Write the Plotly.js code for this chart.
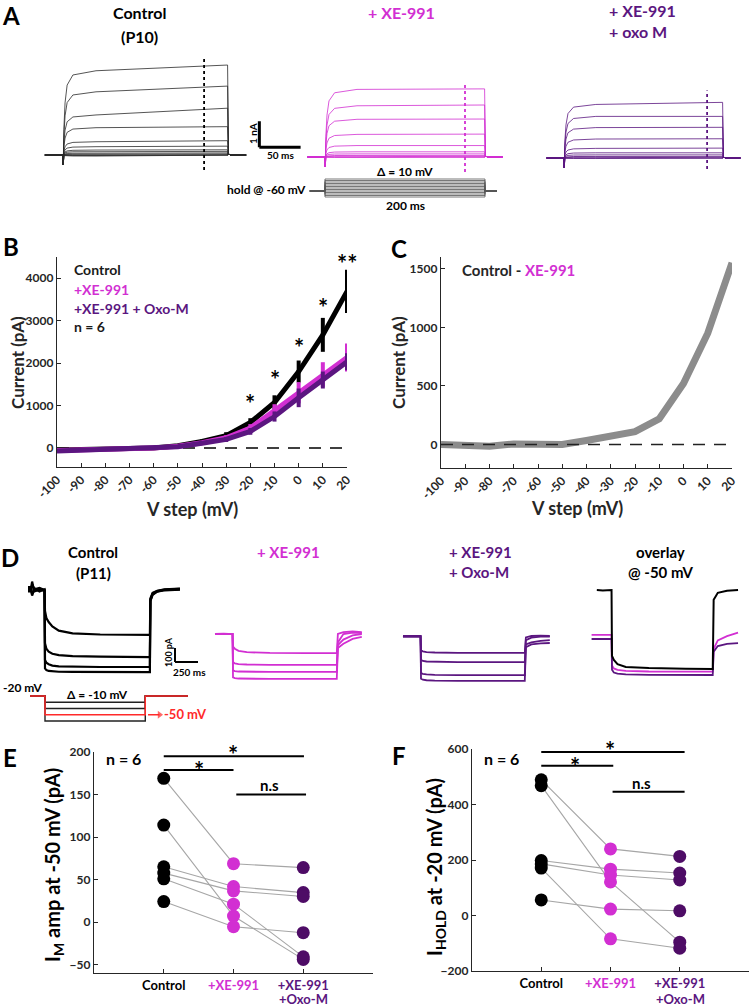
<!DOCTYPE html>
<html><head><meta charset="utf-8">
<script src="https://cdn.plot.ly/plotly-3.0.1.min.js"></script>
<style>html,body{margin:0;padding:0;background:#fff}#chart{width:752px;height:1006px}</style>
</head><body><div id="chart"></div>
<script>
const W=752,H=1006;
const FONT='Lato, "DejaVu Sans", sans-serif';
const MAG='#d22fd2', PUR='#5b1680', PURDOT='#4e0c66', BLK='#000000', AXC='#262626', RED='#ff2a2a';

// ---------- Panel B / C data (I-V) ----------
const vSteps=[-100,-90,-80,-70,-60,-50,-40,-30,-20,-10,0,10,20];
const ivControl=[-50,-40,-30,-20,0,50,150,290,600,1070,1800,2665,3690];
const ivControlErr=[30,30,30,30,30,30,50,80,100,170,260,400,510];
const ivXE=[-60,-50,-35,-20,-5,40,120,240,470,880,1300,1730,2130];
const ivXEErr=[30,30,30,30,30,30,40,60,90,150,250,290,330];
const ivOxo=[-70,-55,-40,-25,-10,30,110,200,390,740,1180,1600,2030];
const ivOxoErr=[30,30,30,30,30,30,40,60,80,120,220,200,200];
const ivDiff=[0,0,-15,5,-5,0,35,70,110,220,520,950,1550];
const bStarV=[-20,-10,0,10,20];
const bStarY=[1200,1745,2500,3440,4500];
const bStarText=['*','*','*','*','**'];

// ---------- Panel E / F data (paired) ----------
const groups=['Control','+XE-991','+XE-991 +Oxo-M'];
const eControl=[169,114,65,57.5,50.8,24];
const eXE=[68.6,7,41.7,36.6,21,-5.5];
const eOxo=[64,-44,34.6,30,-41,-12.6];
const fControl=[489,468,198,186,171,56];
const fXE=[240,121,167,146,-84,23];
const fOxo=[213,-96,153,128,-118,17];

// ---------- Panel A data (current traces, nA; step levels at onset / end) ----------
const aCtlStart=[3.24,2.43,1.54,1.05,0.51,0.32,0.19,0.13,0.07,0.03,0.0,-0.02,-0.04];
const aCtlEnd=[3.46,2.65,1.80,1.09,0.55,0.34,0.20,0.14,0.08,0.04,0.01,-0.01,-0.03];
const aXEStart=[2.60,1.97,1.45,0.87,0.44,0.20,0.12,0.06,0.03,0.0,-0.02];
const aXEEnd=[2.62,2.00,1.46,0.88,0.44,0.20,0.12,0.06,0.03,0.0,-0.02];
const aOxoStart=[2.06,1.60,1.17,0.73,0.37,0.20,0.12,0.06,0.03,0.0,-0.02];
const aOxoEnd=[2.14,1.60,1.18,0.74,0.38,0.20,0.12,0.06,0.03,0.0,-0.02];
const aTime=[-22,-0.5,0,0.3,1,2.5,5,12,40,199.5,200,200.6,203,222];
const aProtV=[-100,-90,-80,-70,-60,-50,-40,-30,-20,-10,0,10,20];

// ---------- Panel D data (pA) ----------
const dCtlT=[-185,-150,-140,-120,-60,-5,0,15,40,80,150,300,600,1000,1140,1145,1170,1220,1300,1467];
const dCtl=[
 [20,20,60,0,10,0,-150,-200,-229,-260,-290,-310,-318,-321,-321,-60,-20,-5,5,10],
 [10,10,-30,-10,0,-5,-380,-420,-440,-455,-465,-472,-476,-479,-479,-70,-25,-8,3,8],
 [0,0,40,15,-10,5,-500,-520,-530,-540,-545,-548,-550,-550,-550,-75,-30,-10,0,5],
 [-10,-10,-40,5,15,0,-560,-572,-578,-582,-584,-585,-586,-586,-586,-80,-35,-12,-2,2]];
const dStepT=[-196,-100,-5,0,20,60,150,400,800,1128,1140,1200,1300,1400];
const dXE=[
 [0,3,0,-90,-105,-120,-130,-135,-136,-136,0,14,18,14],
 [0,-2,0,-200,-210,-215,-218,-220,-221,-221,-60,0,10,7],
 [0,2,0,-260,-265,-268,-270,-271,-271,-271,-80,-40,-10,0],
 [0,-2,0,-310,-315,-318,-320,-321,-321,-321,-100,-70,-35,-20]];
const dOxo=[
 [0,0,0,-100,-110,-115,-118,-120,-121,-121,-10,0,2,0],
 [0,0,0,-170,-178,-182,-184,-186,-186,-186,-30,-12,-5,-5],
 [-5,-5,-5,-265,-270,-274,-277,-279,-279,-279,-60,-45,-35,-30],
 [-5,-5,-5,-305,-312,-316,-319,-321,-321,-321,-80,-60,-52,-50]];
const dOvT=[-222,-100,-5,0,20,60,150,400,800,1095,1105,1150,1250,1370];
const dOvCtlT=[-165,-100,-5,0,20,60,150,400,800,1095,1105,1150,1250,1370];
const dOvCtl=[0,-3,0,-470,-500,-530,-550,-557,-562,-564,-70,-20,-5,0];
const dOvXE=[-321,-321,-321,-540,-560,-570,-578,-582,-583,-583,-420,-360,-330,-305];
const dOvOxo=[-350,-350,-350,-570,-590,-598,-603,-606,-607,-607,-440,-400,-385,-379];
const dProtBlack=[-30,-40,-60];
const dProtRed=-50;

// ================= build =================
const traces=[], shapes=[], annotations=[];
const axStyle=()=>({showline:true,linecolor:AXC,linewidth:1.2,ticks:'inside',ticklen:4,tickcolor:AXC,tickwidth:1,
  showgrid:false,zeroline:false,fixedrange:true,tickfont:{family:FONT,size:12,color:AXC,weight:'bold'}});
const layout={width:W,height:H,margin:{l:0,r:0,t:0,b:0},paper_bgcolor:'#fff',plot_bgcolor:'rgba(0,0,0,0)',
  showlegend:false,font:{family:FONT,color:'#000'},shapes,annotations};

layout.xaxis=Object.assign(axStyle(),{domain:[57/W,347/W],range:[-100,20],tickvals:vSteps,ticktext:vSteps.map(String),tickangle:-45,anchor:'y'});
layout.yaxis=Object.assign(axStyle(),{domain:[1-467/H,1-257/H],range:[-450,4500],tickvals:[0,1000,2000,3000,4000],anchor:'x'});
layout.xaxis2=Object.assign(axStyle(),{domain:[441/W,732/W],range:[-100,20],tickvals:vSteps,ticktext:vSteps.map(String),tickangle:-45,anchor:'y2'});
layout.yaxis2=Object.assign(axStyle(),{domain:[1-468/H,1-257/H],range:[-200,1600],tickvals:[0,500,1000,1500],anchor:'x2'});
const catText=['Control','<span style="color:'+MAG+'">+XE-991</span>','<span style="color:'+PUR+'">+XE-991</span>'];
layout.xaxis3=Object.assign(axStyle(),{domain:[94/W,373/W],range:[-1,3],tickvals:[0,1,2],ticktext:catText,anchor:'y3'});
layout.xaxis3.tickfont=Object.assign({},layout.xaxis3.tickfont,{size:13,color:'#000'});
layout.yaxis3=Object.assign(axStyle(),{domain:[1-973/H,1-752/H],range:[-60,200],tickvals:[-50,0,50,100,150,200],anchor:'x3'});
layout.xaxis4=Object.assign(axStyle(),{domain:[472/W,749/W],range:[-1,3],tickvals:[0,1,2],ticktext:catText,anchor:'y4'});
layout.xaxis4.tickfont=Object.assign({},layout.xaxis4.tickfont,{size:13,color:'#000'});
layout.yaxis4=Object.assign(axStyle(),{domain:[1-971/H,1-749/H],range:[-200,600],tickvals:[-200,0,200,400,600],anchor:'x4'});

function hid(n,x0,ppx,xmin,xmax,y0,ppy,ymin,ymax){
  layout['xaxis'+n]={domain:[(x0+xmin*ppx)/W,(x0+xmax*ppx)/W],range:[xmin,xmax],visible:false,anchor:'y'+n,fixedrange:true};
  layout['yaxis'+n]={domain:[1-(y0-ymin*ppy)/H,1-(y0-ymax*ppy)/H],range:[ymin,ymax],visible:false,anchor:'x'+n,fixedrange:true};
}
hid(5,63,0.825,-24,300,155,26,-0.8,4.0);
hid(6,325,0.8,-24,224,157,26,-0.8,4.0);
hid(7,564,0.795,-24,224,158,26,-0.8,4.0);
hid(8,325,0.8,-24,224,182,0.15,-118,28);
hid(9,45,0.092,-200,1700,590,0.14,-720,140);
hid(10,233,0.092,-210,1420,634,0.14,-420,120);
hid(11,421,0.092,-210,1420,636,0.14,-420,120);
hid(12,612,0.092,-240,1380,590,0.14,-720,140);
hid(13,45,0.092,-200,1700,683.5,0.625,-70,-5);

function line(xa,ya,x,y,color,width,extra){traces.push(Object.assign({type:'scatter',mode:'lines',x,y,xaxis:xa,yaxis:ya,
  line:{color,width},hoverinfo:'skip',cliponaxis:false},extra||{}));}

// ---- Panel B ----
line('x','y',[-100,20],[0,0],'#000',1.5,{line:{color:'#000',width:1.5,dash:'12px,9px'}});
[[ivControl,ivControlErr,'#000'],[ivXE,ivXEErr,MAG],[ivOxo,ivOxoErr,PUR]].forEach(([v,e,c])=>{
  traces.push({type:'scatter',mode:'lines',x:vSteps,y:v,xaxis:'x',yaxis:'y',line:{color:c,width:5},cliponaxis:false,hoverinfo:'skip',
    error_y:{type:'data',array:e,visible:true,color:c,thickness:4,width:0}});
});
bStarV.forEach((v,i)=>annotations.push({xref:'x',yref:'y',x:v,y:bStarY[i],text:bStarText[i],showarrow:false,yshift:-6,
  font:{family:FONT,size:24,color:'#000',weight:'bold'}}));

// ---- Panel C ----
line('x2','y2',vSteps,ivDiff,'#8c8c8c',7);
line('x2','y2',[-100,20],[0,0],'#000',1.5,{line:{color:'#222',width:1.5,dash:'12px,9px'}});

// ---- Panel E / F ----
function paired(xa,ya,c,x,o){
  c.forEach((v,i)=>line(xa,ya,[0,1,2],[v,x[i],o[i]],'#a6a6a6',1.1));
  [[c,0,'#000'],[x,1,MAG],[o,2,PURDOT]].forEach(([arr,g,col])=>traces.push({type:'scatter',mode:'markers',xaxis:xa,yaxis:ya,
    x:arr.map(()=>g),y:arr,marker:{size:13,color:col},cliponaxis:false,hoverinfo:'skip'}));
}
paired('x3','y3',eControl,eXE,eOxo);
paired('x4','y4',fControl,fXE,fOxo);
function seg(xr,yr,x0,x1,y0,y1,color,width,dash){shapes.push({type:'line',xref:xr,yref:yr,x0,x1,y0,y1,line:{color,width,dash:dash||'solid'}});}
seg('x3','y3',0,2.01,195,195,'#000',2);
seg('x3','y3',0,1,178.7,178.7,'#000',2);
seg('x3','y3',1.04,2.04,150,150,'#000',2);
seg('x4','y4',0,2.07,589,589,'#000',2);
seg('x4','y4',0,1.04,540,540,'#000',2);
seg('x4','y4',1.03,2.07,446,446,'#000',2);
function axAnn(xr,yr,x,y,text,size,extra){annotations.push(Object.assign({xref:xr,yref:yr,x,y,text,showarrow:false,
  font:{family:FONT,size,color:'#000',weight:'bold'}},extra||{}));}
axAnn('x3','y3',0.5,185.6,'*',24,{yshift:-6});
axAnn('x3','y3',1.51,160.8,'n.s',15);
axAnn('x4','y4',0.49,558,'*',24,{yshift:-6});
axAnn('x4','y4',1.45,477,'n.s',15);

// ---- Panel A traces ----
function aWave(s,e){return [0,0,0,-0.38,0.3*s,0.62*s,0.83*s,0.95*s,s,e,0.12*e,0.04,0,0];}
aCtlStart.forEach((s,i)=>line('x5','y5',aTime,aWave(s,aCtlEnd[i]),'#2a2a2a',0.8));
aXEStart.forEach((s,i)=>line('x6','y6',aTime,aWave(s,aXEEnd[i]),MAG,0.8));
aOxoStart.forEach((s,i)=>line('x7','y7',aTime,aWave(s,aOxoEnd[i]),PUR,0.8));
aProtV.forEach(v=>line('x8','y8',[-19,0,0,200,200,215],[-60,-60,v,v,-60,-60],'#555',0.8));
seg('x5','y5',171,171,-0.58,3.8,'#000',1.8,'dot');
seg('x6','y6',175,175,-0.58,2.88,MAG,1.8,'dot');
seg('x7','y7',180,180,-0.42,2.6,PUR,1.8,'dot');
seg('x5','y5',238,238,0.3,1.3,'#000',3);
seg('x5','y5',238,288,0.3,0.3,'#000',3);

// ---- Panel D traces ----
dCtl.forEach(v=>line('x9','y9',dCtlT,v,'#000',2.2));
dXE.forEach(v=>line('x10','y10',dStepT,v,MAG,1.8));
dOxo.forEach(v=>line('x11','y11',dStepT,v,PUR,1.8));
line('x12','y12',dOvT,dOvXE,MAG,1.8);
line('x12','y12',dOvT,dOvOxo,PUR,1.8);
line('x12','y12',dOvCtlT,dOvCtl,'#000',2);
seg('x9','y9',1413,1413,-414,-514,'#000',2);
seg('x9','y9',1413,1663,-514,-514,'#000',2);
dProtBlack.forEach(v=>line('x13','y13',[-163,0,0,1090,1090,1554],[-20,-20,v,v,-20,-20],'#222',1.4));
line('x13','y13',[-163,0,0,1090,1090,1554],[-20,-20,dProtRed,dProtRed,-20,-20],RED,1.5);
// arrow pointing to the -50 mV label
line('x13','y13',[1120,1245],[dProtRed,dProtRed],RED,1.5,{mode:'lines+markers',
  marker:{symbol:['circle','triangle-right'],size:[0,7],color:RED,line:{width:0}}});

// ---- paper texts ----
function pa(px,py,text,size,color,extra){annotations.push(Object.assign({xref:'paper',yref:'paper',x:px/W,y:1-py/H,text,showarrow:false,
  xanchor:'center',yanchor:'middle',font:{family:FONT,size,color:color||'#000',weight:'bold'}},extra||{}));}
const L={xanchor:'left'}, R={xanchor:'right'}, V={textangle:-90};
// panel letters
pa(11,16,'A',24); pa(11,246,'B',24); pa(399,248,'C',24); pa(10,557,'D',24); pa(10,757,'E',24); pa(399,755,'F',24);
// A titles
pa(139,13,'Control',16); pa(139,37,'(P10)',16);
pa(401,12,'+ XE-991',16,MAG);
pa(607,11,'+ XE-991',16,PUR,L); pa(607,32,'+ oxo M',16,PUR,L);
pa(253,134,'1 nA',10,'#000',V); pa(280,155,'50 ms',10);
pa(308,189,'hold @ -60 mV',12,'#000',R);
pa(405,171,'\u0394 = 10 mV',12); pa(405,205,'200 ms',12);
// B
pa(72,269,'Control',14,'#1a1a1a',L); pa(72,289,'+XE-991',14,MAG,L);
pa(72,308,'+XE-991 + Oxo-M',14,PUR,L); pa(72,326,'n = 6',14,'#1a1a1a',L);
pa(17,363,'Current (pA)',17,'#262626',V); pa(192,509,'V step (mV)',18,'#262626');
// C
pa(460,270,'Control - <span style="color:'+MAG+'">XE-991</span>',15,'#262626',L);
pa(398,363,'Current (pA)',17,'#262626',V); pa(577,508,'V step (mV)',18,'#262626');
// D titles
pa(93,552,'Control',15); pa(93,573,'(P11)',15);
pa(288,552,'+ XE-991',15,MAG);
pa(447,552,'+ XE-991',15,PUR,L); pa(447,572,'+ Oxo-M',15,PUR,L);
pa(660,552,'overlay',15); pa(660,572,'@ -50 mV',15);
pa(168,652,'100 pA',9,'#000',V); pa(189,672,'250 ms',10);
pa(23,687,'-20 mV',12); pa(97,694,'\u0394 = -10 mV',12);
pa(162,714,'-50 mV',13,RED,L);
// E / F
pa(123,758,'n = 6',16); pa(501,758,'n = 6',16);
pa(233,754,'*',24); pa(610,750,'*',24);
pa(303,999,'+Oxo-M',13,PUR,{height:14}); pa(680,999,'+Oxo-M',13,PUR,{height:14});
pa(53,865,'I<sub>M</sub> amp at -50 mV (pA)',20,'#000',V);
pa(435,867,'I<sub>HOLD</sub> at -20 mV (pA)',20,'#000',V);

Plotly.newPlot('chart',traces,layout,{staticPlot:true,displayModeBar:false});
</script></body></html>
